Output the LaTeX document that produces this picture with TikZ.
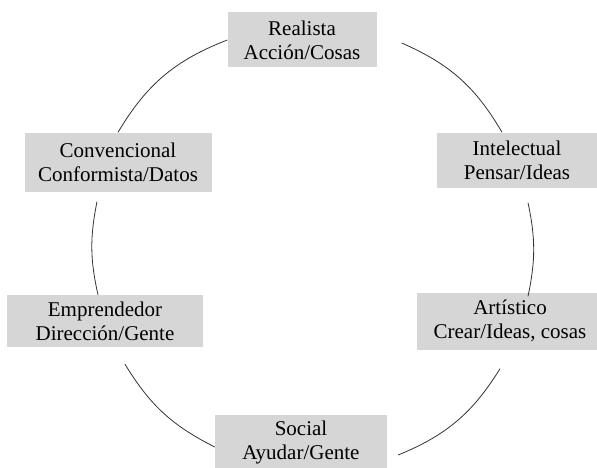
\documentclass[tikz,border=0pt]{standalone}
\usepackage{fontspec}
\setmainfont{Liberation Serif}

\begin{document}
\begin{tikzpicture}[x=1pt, y=1pt,
    every node/.style={font=\fontsize{21}{24}\selectfont},
    campo/.style={fill=black!16, align=center, inner sep=4pt, minimum height=55pt},
    arco/.style={draw=black!80, line width=0.8pt}]
  \useasboundingbox (0,0) rectangle (597,467);

  % tipos de personalidad
  \node[campo, minimum width=149pt] (real) at (302,427) {Realista\\Acción/Cosas};
  \node[campo, minimum width=187pt, minimum height=59pt] (conv) at (118,305) {Convencional\\Conformista/Datos};
  \node[campo, minimum width=160pt] (intel) at (517,307) {Intelectual\\Pensar/Ideas};
  \node[campo, minimum width=196pt, minimum height=52pt] (empr) at (105,146) {Emprendedor\\Dirección/Gente};
  \node[campo, minimum width=186pt, minimum height=57pt] (art) at (510,146) {Artístico\\Crear/Ideas, cosas};
  \node[campo, minimum width=172pt] (soc) at (301,25) {Social\\Ayudar/Gente};

  % arcos del círculo
  \draw[arco] (real.west) to[bend right=19] (conv.north);
  \draw[arco] ([shift={(-21,-10)}]conv.south) to[bend right=12] ([xshift=-7]empr.north);
  \draw[arco] ([shift={(20,-17)}]empr.south) to[bend right=16] ([yshift=-5]soc.west);
  \draw[arco] ([shift={(11,-13)}]soc.east) to[bend right=18] ([shift={(-10,-19)}]art.south);
  \draw[arco] ([shift={(18,-4)}]art.north) to[bend right=12] ([shift={(11,-15)}]intel.south);
  \draw[arco] ([xshift=-15]intel.north) to[bend right=18] ([shift={(25,-3)}]real.east);
\end{tikzpicture}
\end{document}
